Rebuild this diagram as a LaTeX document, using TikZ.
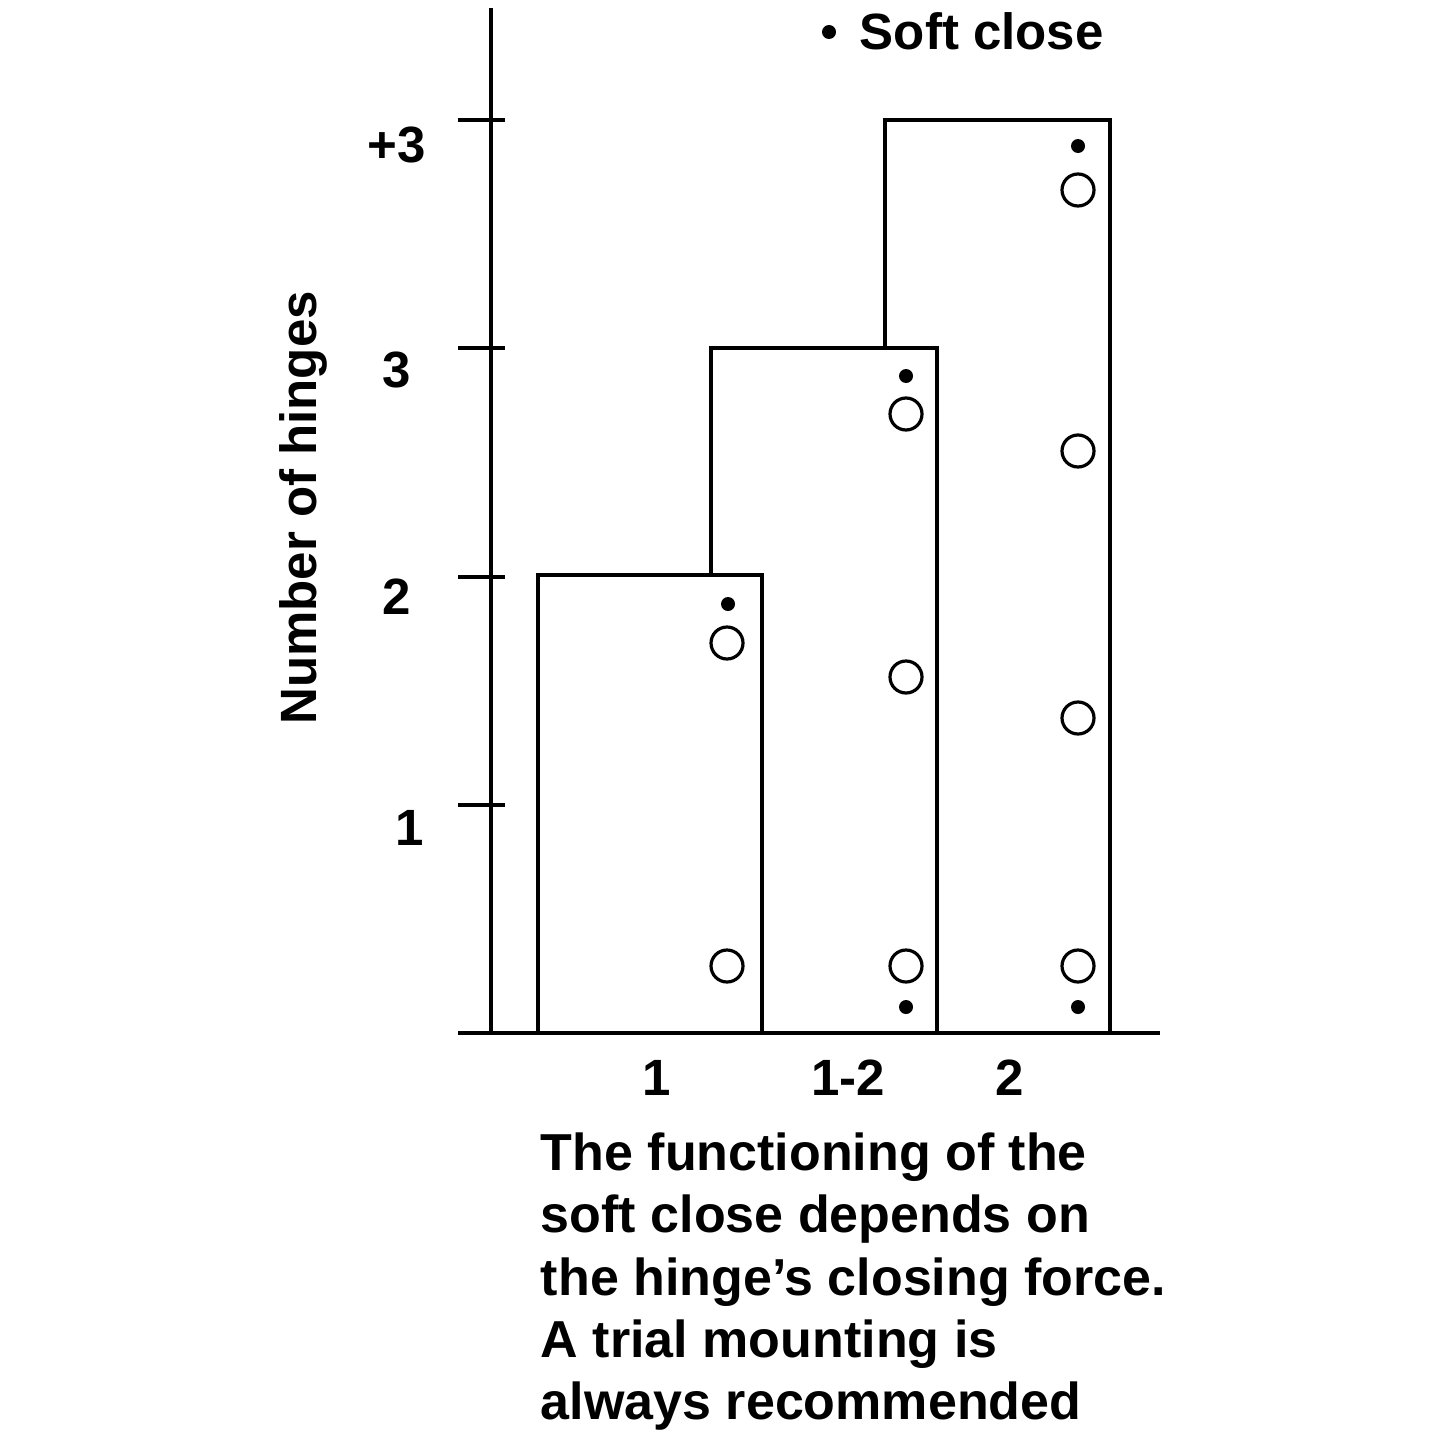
\documentclass[tikz,border=0pt]{standalone}
\usepackage{fontspec}
\setmainfont{Liberation Sans}
\begin{document}
\begin{tikzpicture}[x=1pt,y=-1pt,line width=3.2pt,
  bar/.style={draw=black,fill=white},
  hole/.style={circle,draw=black,line width=3.2pt,minimum size=32pt,inner sep=0pt},
  dot/.style={circle,fill=black,minimum size=14pt,inner sep=0pt},
  lab/.style={font=\fontsize{51}{60}\selectfont\bfseries}]
\useasboundingbox (0,0) rectangle (1445,1445);
\draw (491,8) -- (491,1033);
\foreach \y in {120,348,577,805,1033} \draw (458,\y) -- (505,\y);
\draw (458,1033) -- (1160,1033);
\node[lab] (t3p) at (397,145) {+3};
\node[lab] (t3) at (397,370) {3};
\node[lab] (t2) at (397,597) {2};
\node[lab] (t1) at (410,828) {1};
\draw[bar] (885,1033) rectangle (1110,120);
\draw[bar] (711,1033) rectangle (937,348);
\draw[bar] (538,1033) rectangle (762,575);
\node[hole] (a1) at (727,643) {}; \node[hole] (a2) at (727,966) {};
\node[dot] (ad) at (728,604) {};
\node[hole] (b1) at (906,414) {}; \node[hole] (b2) at (906,677) {}; \node[hole] (b3) at (906,966) {};
\node[dot] (bd) at (906,376) {}; \node[dot] (bd2) at (906,1007) {};
\node[hole] (c1) at (1078,190) {}; \node[hole] (c2) at (1078,451) {}; \node[hole] (c3) at (1078,718) {}; \node[hole] (c4) at (1078,966) {};
\node[dot] (cd) at (1078,146) {}; \node[dot] (cd2) at (1078,1007) {};
\node[dot] (ld) at (829,32) {};
\node[lab,anchor=west] (leg) at (855,31) {Soft close};
\node[lab] (x1) at (657,1078) {1};
\node[lab] (x12) at (848,1078) {1-2};
\node[lab] (x2) at (1010,1078) {2};
\node[lab,rotate=90] (yt) at (303,508) {Number of hinges};
\node[lab,anchor=north west,align=left,font=\fontsize{52}{62.3}\selectfont\bfseries] (par) at (536,1128)
{The functioning of the\\soft close depends on\\the hinge’s closing force.\\A trial mounting is\\always recommended};
\end{tikzpicture}
\end{document}
